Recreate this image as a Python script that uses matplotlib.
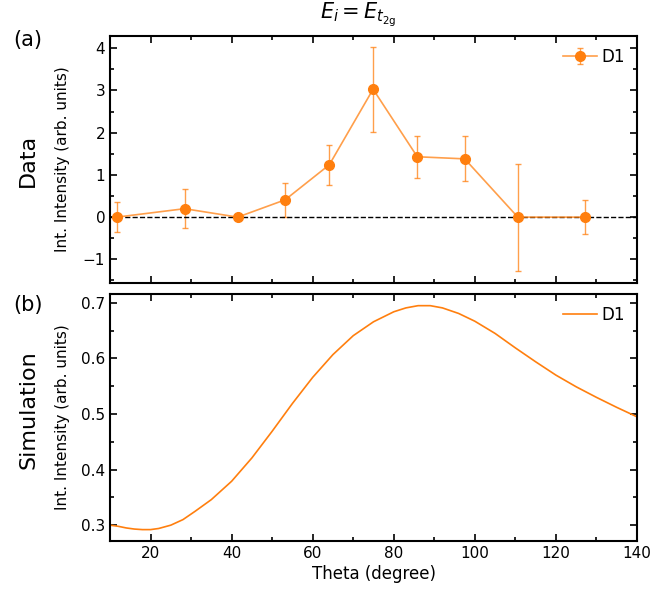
import numpy as np
import matplotlib.pyplot as plt
from matplotlib.ticker import MultipleLocator

# measured data, panel (a)
theta_data = [11.7, 28.4, 41.5, 53.2, 64.1, 74.9, 85.8, 97.5, 110.6, 127.2]
intensity = [0.0, 0.20, 0.0, 0.41, 1.24, 3.03, 1.43, 1.38, 0.0, 0.0]
intensity_err = [0.35, 0.46, 0.05, 0.41, 0.48, 1.01, 0.50, 0.53, 1.27, 0.41]

# simulated curve, panel (b)
theta_sim = [10, 12, 14, 16, 18, 20, 22, 25, 28, 31, 35, 40, 45, 50, 55, 60, 65, 70,
             75, 80, 83, 86, 89, 92, 96, 100, 105, 110, 115, 120, 125, 130, 135, 140]
sim = [0.300, 0.298, 0.295, 0.293, 0.292, 0.292, 0.294, 0.300, 0.310, 0.325,
       0.346, 0.379, 0.421, 0.469, 0.519, 0.566, 0.607, 0.641, 0.666, 0.684,
       0.691, 0.695, 0.695, 0.691, 0.681, 0.667, 0.645, 0.619, 0.594, 0.570,
       0.549, 0.530, 0.512, 0.495]

orange = "#ff7f0e"
light = (1.0, 0.498, 0.055, 0.75)

fig = plt.figure(figsize=(6.52, 5.93), dpi=100)
ax1 = fig.add_axes([110 / 652, 310 / 593, 527 / 652, 247 / 593])
ax2 = fig.add_axes([110 / 652, 52 / 593, 527 / 652, 247 / 593])

ax1.errorbar(theta_data, intensity, yerr=intensity_err, fmt="-o", color=light,
             ecolor=light, mfc=orange, mec=orange, ms=7, lw=1.2,
             elinewidth=1, capsize=2, label="D1")
ax1.axhline(0, color="black", ls="--", lw=1)
ax1.set_ylim(-1.56, 4.29)
ax1.yaxis.set_major_locator(MultipleLocator(1))
ax1.yaxis.set_minor_locator(MultipleLocator(0.5))
ax1.tick_params(labelbottom=False)
ax1.legend(loc="upper right", frameon=False, fontsize=12, handlelength=2,
           handletextpad=0.3, borderaxespad=0.3)

ax2.plot(theta_sim, sim, color=orange, lw=1.2, label="D1")
ax2.set_ylim(0.2715, 0.716)
ax2.yaxis.set_major_locator(MultipleLocator(0.1))
ax2.yaxis.set_minor_locator(MultipleLocator(0.05))
ax2.set_xlabel("Theta (degree)", fontsize=12, labelpad=3)
ax2.legend(loc="upper right", frameon=False, fontsize=12, handlelength=2,
           handletextpad=0.3, borderaxespad=0.3)

for ax in (ax1, ax2):
    ax.set_xlim(10, 140)
    ax.xaxis.set_major_locator(MultipleLocator(20))
    ax.xaxis.set_minor_locator(MultipleLocator(10))
    ax.tick_params(which="both", direction="in", top=True, right=True,
                   labelsize=11, width=1.2)
    ax.tick_params(which="major", length=5)
    ax.tick_params(which="minor", length=3)
    for s in ax.spines.values():
        s.set_linewidth(1.5)
    ax.set_ylabel("Int. Intensity (arb. units)", fontsize=11)
    ax.yaxis.set_label_coords(-0.075, 0.5)

fig.text(358 / 652, 1 - 15 / 593, r"$E_i = E_{t_{2\mathrm{g}}}$", ha="center",
         va="center", fontsize=15)
fig.text(28 / 652, 1 - 40 / 593, "(a)", ha="center", va="center", fontsize=15)
fig.text(28 / 652, 1 - 305 / 593, "(b)", ha="center", va="center", fontsize=15)
fig.text(28 / 652, 1 - 160 / 593, "Data", ha="center", va="center",
         fontsize=16, rotation=90)
fig.text(28 / 652, 1 - 410 / 593, "Simulation", ha="center", va="center",
         fontsize=16, rotation=90)

fig.savefig("out.png", dpi=100)
